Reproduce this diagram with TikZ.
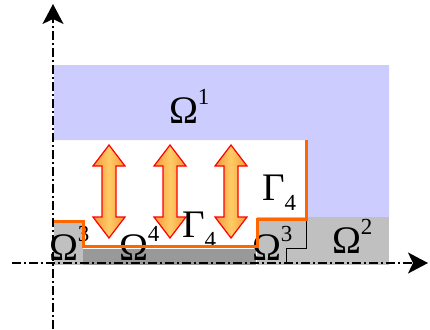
\documentclass[tikz,border=0pt]{standalone}
\usepackage{fontspec}
\setmainfont{Liberation Serif}
\usetikzlibrary{arrows.meta}
\definecolor{blueregion}{HTML}{CCCCFF}
\definecolor{lightgrayregion}{HTML}{C0C0C0}
\definecolor{darkgrayregion}{HTML}{999999}
\definecolor{boundary}{HTML}{FF6600}
\definecolor{arrowedge}{HTML}{F5963A}
\definecolor{arrowmid}{HTML}{FFCC66}
\newcommand\omlabel[1]{{\fontsize{39}{39}\selectfont Ω}\raisebox{19pt}{\fontsize{23}{23}\selectfont #1}}
\newcommand\gamlabel[1]{{\fontsize{39}{39}\selectfont Γ}\raisebox{-10pt}{\fontsize{23}{23}\selectfont #1}}
\tikzset{
  axisline/.style={line width=1.8pt, dash pattern=on 9pt off 3pt on 2pt off 3pt,
    -{Stealth[length=20pt,width=21pt,inset=5pt]}},
  bnd/.style={boundary, line width=3pt, line join=miter},
  dblarrow/.style={draw=red, line width=1.2pt, left color=arrowedge, right color=arrowedge, middle color=arrowmid},
  lbl/.style={anchor=base west, inner sep=0pt, outer sep=0pt}
}
\begin{document}
\begin{tikzpicture}[x=1pt,y=-1pt]
\useasboundingbox (0,0) rectangle (430,329);
% vertical axis (under the regions)
\coordinate (ys) at (53,329);
\coordinate (ye) at (53,4);
\draw[axisline] (ys) -- (ye);
% regions
\fill[blueregion] (54,65) -- (389,65) -- (389,217) -- (307,217) -- (307,140) -- (54,140) -- cycle;
\fill[lightgrayregion] (257,217) rectangle (389,265);
\fill[lightgrayregion] (54,221) rectangle (83,265);
\fill[darkgrayregion] (83,249) rectangle (256,265);
% thin black step
\coordinate (s1) at (306,218);
\coordinate (s2) at (306,248);
\coordinate (s3) at (286,248);
\coordinate (s4) at (286,263);
\draw[black, line width=0.8pt] (s1) -- (s2) -- (s3) -- (s4);
% double arrows
\foreach \c in {109,170,231} {
  \draw[dblarrow] (\c,145) -- (\c+16,166) -- (\c+7,166) -- (\c+7,217) -- (\c+16,217)
    -- (\c,238) -- (\c-16,217) -- (\c-7,217) -- (\c-7,166) -- (\c-16,166) -- cycle;
}
% labels
\node[lbl] (o1) at (169,123) {\omlabel{1}};
\node[lbl] (o3a) at (49,260) {\omlabel{3}};
\node[lbl] (o4) at (119,260) {\omlabel{4}};
\node[lbl] (o3b) at (252,260) {\omlabel{3}};
\node[lbl] (o2) at (332,253) {\omlabel{2}};
\node[lbl] (g4a) at (182,237) {\gamlabel{4}};
\node[lbl] (g4b) at (262,200) {\gamlabel{4}};
% boundary
\coordinate (b1) at (306,140);
\coordinate (b2) at (306,219);
\coordinate (b3) at (257,219);
\coordinate (b4) at (257,246);
\coordinate (b5) at (83,246);
\coordinate (b6) at (83,221);
\coordinate (b7) at (54,221);
\draw[bnd] (b1) -- (b2) -- (b3) -- (b4) -- (b5) -- (b6) -- (b7);
% horizontal axis
\coordinate (xs) at (12,263);
\coordinate (xe) at (428,263);
\draw[axisline] (xs) -- (xe);
\end{tikzpicture}
\end{document}
